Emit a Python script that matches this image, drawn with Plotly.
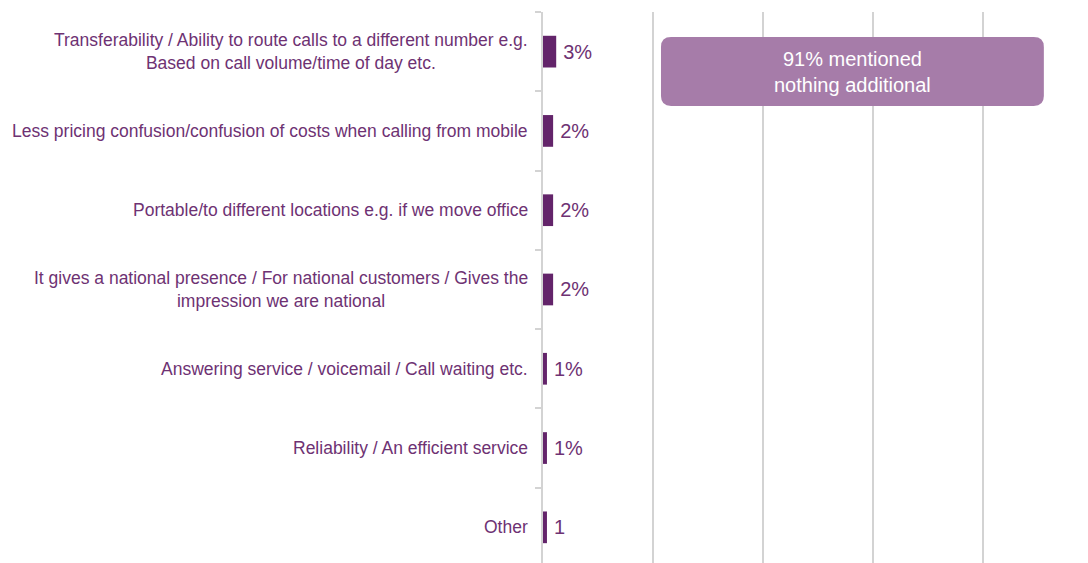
import plotly.graph_objects as go

categories = [
    "Transferability / Ability to route calls to a different number e.g.<br>Based on call volume/time of day etc.",
    "Less pricing confusion/confusion of costs when calling from mobile",
    "Portable/to different locations e.g. if we move office",
    "It gives a national presence / For national customers / Gives the<br>impression we are national",
    "Answering service / voicemail / Call waiting etc.",
    "Reliability / An efficient service",
    "Other",
]
values = [0.03, 0.023, 0.023, 0.023, 0.009, 0.009, 0.009]
value_labels = ["3%", "2%", "2%", "2%", "1%", "1%", "1"]
grid_ticks = [0.25, 0.5, 0.75, 1.0]
callout_text = "91% mentioned<br>nothing additional"

BAR = "#63246a"
TXT = "#6e3273"
GRID = "#d3d3d3"
BOX = "#a67ca9"

ids = list(range(len(categories)))

fig = go.Figure()
fig.add_trace(go.Bar(
    x=values, y=ids, orientation="h",
    marker=dict(color=BAR, line=dict(width=0)),
    width=0.4,
    text=value_labels, texttemplate="\u2009%{text}", textposition="outside",
    textfont=dict(family="Liberation Sans, Arial", size=20, color=TXT),
    cliponaxis=False, hoverinfo="skip",
))

for i, c in enumerate(categories):
    fig.add_annotation(
        x=-0.024, xref="paper", y=i, yref="y", text=c, showarrow=False,
        xanchor="right", yanchor="middle", align="center",
        font=dict(family="Liberation Sans, Arial", size=17.5, color=TXT),
    )

# rounded callout box (paper coordinates)
x0, x1, y0, y1 = 0.2165, 0.919, 0.8294, 0.9546
rx, ry = 0.0185, 0.018
path = (f"M {x0+rx},{y0} L {x1-rx},{y0} Q {x1},{y0} {x1},{y0+ry} "
        f"L {x1},{y1-ry} Q {x1},{y1} {x1-rx},{y1} L {x0+rx},{y1} "
        f"Q {x0},{y1} {x0},{y1-ry} L {x0},{y0+ry} Q {x0},{y0} {x0+rx},{y0} Z")
fig.add_shape(type="path", path=path, xref="paper", yref="paper",
              fillcolor=BOX, line=dict(width=0), layer="above")
fig.add_annotation(
    x=(x0 + x1) / 2, y=(y0 + y1) / 2, xref="paper", yref="paper",
    text=callout_text, showarrow=False, align="center",
    xanchor="center", yanchor="middle",
    font=dict(family="Liberation Sans, Arial", size=20, color="white"),
)

fig.update_layout(
    width=1080, height=555,
    margin=dict(l=535, r=0, t=4, b=0),
    paper_bgcolor="white", plot_bgcolor="white",
    showlegend=False,
)
fig.update_xaxes(
    range=[0, 1.2386], tickvals=grid_ticks, showticklabels=False,
    showgrid=True, gridcolor=GRID, gridwidth=2, zeroline=False, showline=False,
)
fig.update_yaxes(
    range=[6.45, -0.5], tickmode="array", tickvals=[i - 0.5 for i in ids] + [6.5],
    showticklabels=False, ticks="outside", ticklen=6, tickwidth=2, tickcolor=GRID,
    showline=True, linecolor=GRID, linewidth=2, showgrid=False, zeroline=False,
)

fig.write_html("out.html")
